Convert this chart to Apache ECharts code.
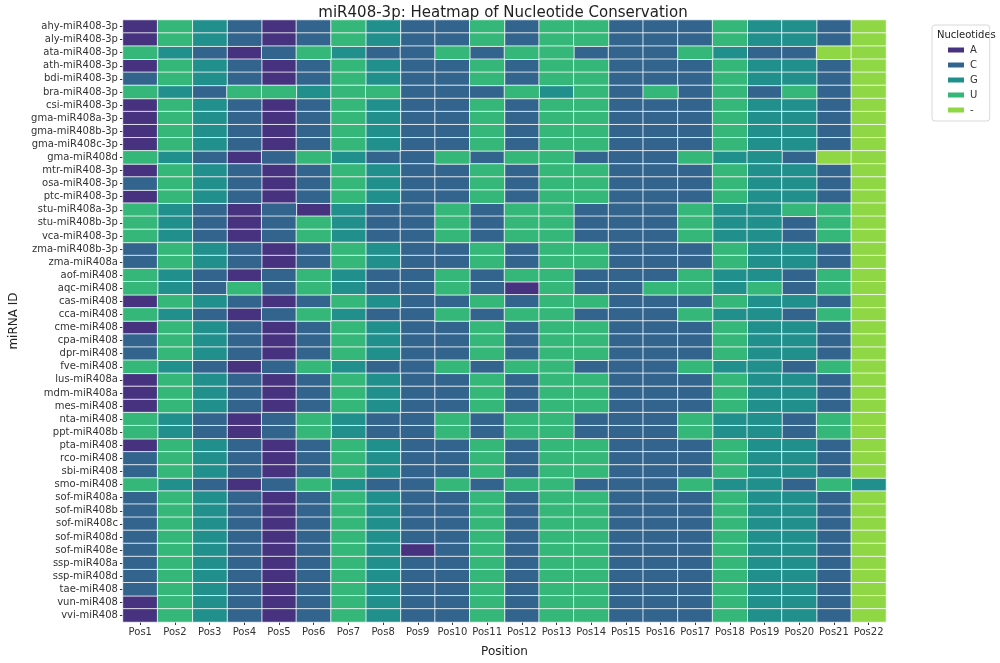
<!DOCTYPE html>
<html>
<head>
<meta charset="utf-8">
<script src="https://cdn.jsdelivr.net/npm/echarts@6/dist/echarts.min.js"></script>
<style>
html,body{margin:0;padding:0;background:#fff;}
#main{width:1000px;height:663px;}
</style>
</head>
<body>
<div id="main"></div>
<script>
const positions = ['Pos1','Pos2','Pos3','Pos4','Pos5','Pos6','Pos7','Pos8','Pos9','Pos10','Pos11','Pos12','Pos13','Pos14','Pos15','Pos16','Pos17','Pos18','Pos19','Pos20','Pos21','Pos22'];
const mirnaIds = ['ahy-miR408-3p','aly-miR408-3p','ata-miR408-3p','ath-miR408-3p','bdi-miR408-3p','bra-miR408-3p','csi-miR408-3p','gma-miR408a-3p','gma-miR408b-3p','gma-miR408c-3p','gma-miR408d','mtr-miR408-3p','osa-miR408-3p','ptc-miR408-3p','stu-miR408a-3p','stu-miR408b-3p','vca-miR408-3p','zma-miR408b-3p','zma-miR408a','aof-miR408','aqc-miR408','cas-miR408','cca-miR408','cme-miR408','cpa-miR408','dpr-miR408','fve-miR408','lus-miR408a','mdm-miR408a','mes-miR408','nta-miR408','ppt-miR408b','pta-miR408','rco-miR408','sbi-miR408','smo-miR408','sof-miR408a','sof-miR408b','sof-miR408c','sof-miR408d','sof-miR408e','ssp-miR408a','ssp-miR408d','tae-miR408','vun-miR408','vvi-miR408'];
const sequences = [
 'AUGCACUGCCUCUUCCCUGGC-', // ahy
 'AUGCACUGCCUCUUCCCUGGC-', // aly
 'UGCACUGCCUCUUCCCUGCC--', // ata
 'AUGCACUGCCUCUUCCCUGGC-', // ath
 'CUGCACUGCCUCUUCCCUGGC-', // bdi
 'UGCUUGUUCCCUGUCUCUCUC-', // bra
 'AUGCACUGCCUCUUCCCUGGC-', // csi
 'AUGCACUGCCUCUUCCCUGGC-', // gma a
 'AUGCACUGCCUCUUCCCUGGC-', // gma b
 'AUGCACUGCCUCUUCCCUGGC-', // gma c
 'UGCACUGCCUCUUCCCUGGC--', // gma d
 'AUGCACUGCCUCUUCCCUGGC-', // mtr
 'CUGCACUGCCUCUUCCCUGGC-', // osa
 'AUGCACUGCCUCUUCCCUGGC-', // ptc
 'UGCACAGCCUCUUCCCUGGUU-', // stu a
 'UGCACUGCCUCUUCCCUGGCU-', // stu b
 'UGCACUGCCUCUUCCCUGGCU-', // vca
 'CUGCACUGCCUCUUCCCUGGC-', // zma b
 'CUGCACUGCCUCUUCCCUGGC-', // zma a
 'UGCACUGCCUCUUCCCUGGCU-', // aof
 'UGCUCUGCCUCAUCCUUGUCU-', // aqc
 'AUGCACUGCCUCUUCCCUGGC-', // cas
 'UGCACUGCCUCUUCCCUGGCU-', // cca
 'AUGCACUGCCUCUUCCCUGGC-', // cme
 'CUGCACUGCCUCUUCCCUGGC-', // cpa
 'CUGCACUGCCUCUUCCCUGGC-', // dpr
 'UGCACUGCCUCUUCCCUGGCU-', // fve
 'AUGCACUGCCUCUUCCCUGGC-', // lus
 'AUGCACUGCCUCUUCCCUGGC-', // mdm
 'AUGCACUGCCUCUUCCCUGGC-', // mes
 'UGCACUGCCUCUUCCCUGGCU-', // nta
 'UGCACUGCCUCUUCCCUGGCU-', // ppt
 'AUGCACUGCCUCUUCCCUGGC-', // pta
 'CUGCACUGCCUCUUCCCUGGC-', // rco
 'CUGCACUGCCUCUUCCCUGGC-', // sbi
 'UGCACUGCCUCUUCCCUGGCUG', // smo
 'CUGCACUGCCUCUUCCCUGGC-', // sof a
 'CUGCACUGCCUCUUCCCUGGC-', // sof b
 'CUGCACUGCCUCUUCCCUGGC-', // sof c
 'CUGCACUGCCUCUUCCCUGGC-', // sof d
 'CUGCACUGACUCUUCCCUGGC-', // sof e
 'CUGCACUGCCUCUUCCCUGGC-', // ssp a
 'CUGCACUGCCUCUUCCCUGGC-', // ssp d
 'CUGCACUGCCUCUUCCCUGGC-', // tae
 'AUGCACUGCCUCUUCCCUGGC-', // vun
 'AUGCACUGCCUCUUCCCUGGC-'  // vvi
];
const nucleotides = ['A','C','G','U','-'];
const nucColors = ['#46327e','#32648e','#21908d','#35b779','#8fd744'];

const series = nucleotides.map((n, k) => {
  const data = [];
  sequences.forEach((seq, r) => {
    for (let c = 0; c < seq.length; c++) {
      if (seq[c] === n) data.push([c, r, k]);
    }
  });
  return {
    name: n,
    type: 'heatmap',
    data: data,
    itemStyle: { color: nucColors[k], borderColor: '#ffffff', borderWidth: 0.8 },
    emphasis: { disabled: true },
    animation: false
  };
});

const chart = echarts.init(document.getElementById('main'), null, {renderer: 'canvas'});
const font = 'DejaVu Sans';
chart.setOption({
  backgroundColor: '#fff',
  animation: false,
  title: {
    text: 'miR408-3p: Heatmap of Nucleotide Conservation',
    left: 498, top: 1, textAlign: 'center',
    textStyle: { fontFamily: font, fontSize: 15, fontWeight: 'normal', color: '#222' }
  },
  grid: { left: 111, right: 114, top: 20, bottom: 37 },
  xAxis: {
    type: 'category', data: positions,
    name: 'Position', nameLocation: 'middle', nameGap: 24,
    nameTextStyle: { fontFamily: font, fontSize: 12, color: '#222' },
    axisLine: { show: false },
    axisTick: { show: true, alignWithLabel: true, length: 3, lineStyle: { color: '#333' } },
    axisLabel: { fontFamily: font, fontSize: 10, color: '#333', margin: 5, interval: 0 },
    splitLine: { show: false }
  },
  yAxis: {
    type: 'category', data: mirnaIds, inverse: true,
    name: 'miRNA ID', nameLocation: 'middle', nameGap: 92, nameRotate: 90,
    nameTextStyle: { fontFamily: font, fontSize: 12, color: '#222' },
    axisLine: { show: false },
    axisTick: { show: true, alignWithLabel: true, length: 3, lineStyle: { color: '#333' } },
    axisLabel: { fontFamily: font, fontSize: 10, color: '#333', margin: 5, interval: 0 },
    splitLine: { show: false }
  },
  legend: {
    orient: 'vertical', left: 932, top: 25,
    data: nucleotides,
    itemWidth: 18, itemHeight: 7, itemGap: 5,
    icon: 'rect',
    padding: [20, 12, 6, 14],
    borderColor: '#d8d8d8', borderWidth: 1, borderRadius: 3,
    textStyle: { fontFamily: font, fontSize: 10, color: '#333' },
    selectedMode: false
  },
  graphic: [{
    type: 'text', left: 937, top: 30,
    style: { text: 'Nucleotides', fontFamily: font, fontSize: 10, fill: '#222' }
  }],
  series: series
});
</script>
</body>
</html>
